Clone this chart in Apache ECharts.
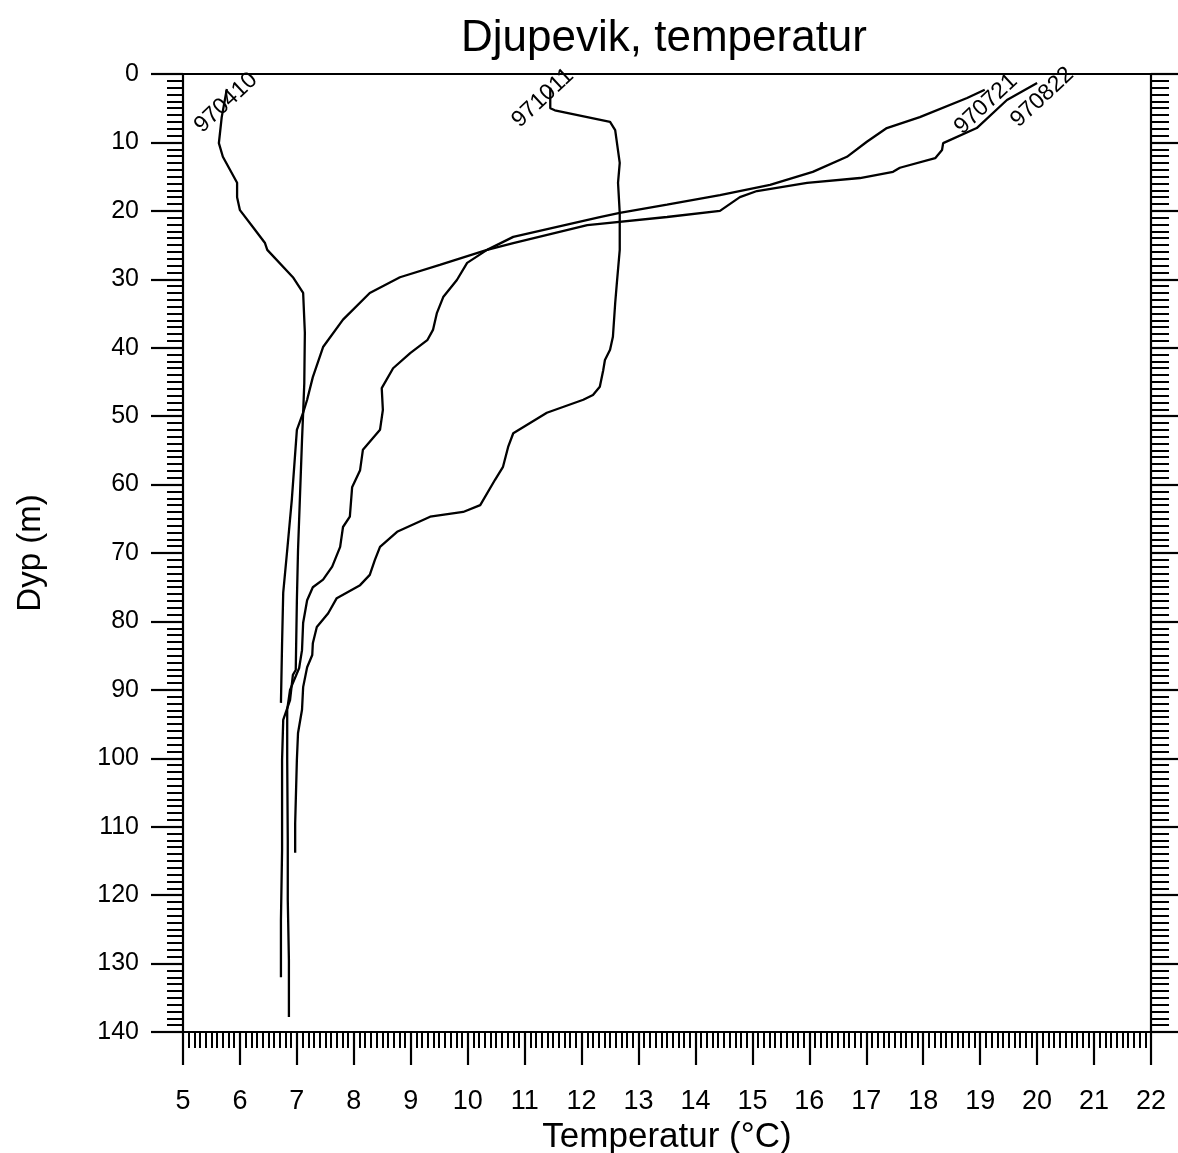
<!DOCTYPE html>
<html>
<head>
<meta charset="utf-8">
<script src="https://cdn.jsdelivr.net/npm/echarts@6/dist/echarts.min.js"></script>
<style>
html,body{margin:0;padding:0;background:#fff;}
#chart{width:1178px;height:1153px;}
</style>
</head>
<body>
<div id="chart"></div>
<script>
// Profile 970410
const depth_970410 = [2.2, 6.3, 10.1, 12.1, 15.9, 18.0, 19.9, 22.4, 24.7, 25.7, 29.7, 32.0, 37.8, 45.2, 49.5, 53.5, 69.6, 76.9, 87.1, 87.8, 91.5, 94.4, 100.2, 113.4, 123.6, 132];
const temp_970410  = [5.77, 5.68, 5.63, 5.70, 5.95, 5.95, 6.00, 6.23, 6.44, 6.48, 6.93, 7.11, 7.14, 7.13, 7.11, 7.09, 7.02, 7.00, 6.98, 6.93, 6.88, 6.76, 6.74, 6.74, 6.72, 6.72];

// Profile 970721
const depth_970721 = [2.3, 3.5, 6.3, 7.9, 9.9, 12.1, 14.3, 16.2, 17.7, 19.1, 20.3, 20.9, 23.8, 25.7, 27.9, 29.7, 32.0, 35.9, 39.9, 44.3, 47.6, 49.5, 52.0, 62.3, 69.6, 75.8, 83.2, 91.9];
const temp_970721  = [19.08, 18.77, 17.94, 17.36, 17.01, 16.66, 16.06, 15.31, 14.43, 13.50, 12.67, 12.32, 10.80, 10.34, 9.51, 8.81, 8.28, 7.81, 7.46, 7.28, 7.18, 7.11, 7.00, 6.91, 6.83, 6.76, 6.74, 6.72];

// Profile 970822
const depth_970822 = [1.3, 3.8, 7.9, 10.1, 11.1, 12.3, 13.7, 14.3, 15.2, 15.9, 17.1, 18.0, 20.0, 20.9, 21.9, 22.1, 24.7, 25.7, 27.6, 30.1, 32.6, 34.9, 37.4, 38.9, 40.8, 43.0, 45.9, 49.1, 52.0, 54.9, 57.9, 60.4, 64.7, 66.2, 69.1, 72.0, 73.9, 75.0, 76.9, 80.2, 84.2, 86.8, 90.0, 92.9, 100.2, 112, 120.7, 129.5, 137.8];
const temp_970822  = [20.0, 19.47, 18.94, 18.35, 18.33, 18.21, 17.59, 17.47, 16.89, 15.96, 15.08, 14.78, 14.43, 13.50, 12.32, 12.10, 10.80, 10.34, 9.99, 9.81, 9.57, 9.46, 9.39, 9.29, 8.99, 8.69, 8.49, 8.51, 8.46, 8.16, 8.11, 7.97, 7.93, 7.81, 7.76, 7.62, 7.46, 7.28, 7.18, 7.11, 7.09, 7.04, 6.88, 6.83, 6.83, 6.84, 6.84, 6.86, 6.86];

// Profile 971011
const depth_971011 = [2.0, 5.0, 5.3, 7.0, 8.2, 13.0, 15.9, 20.3, 25.7, 30.5, 33.5, 38.4, 40.3, 41.8, 43.3, 45.7, 46.9, 47.6, 49.5, 52.5, 54.5, 57.4, 59.3, 63.0, 64.0, 64.7, 66.9, 69.1, 71.0, 73.2, 74.7, 76.6, 78.8, 80.8, 83.2, 84.9, 86.7, 89.6, 92.9, 96.3, 100.2, 109.5, 113.8];
const temp_971011  = [11.45, 11.45, 11.53, 12.50, 12.59, 12.67, 12.64, 12.67, 12.67, 12.62, 12.59, 12.55, 12.50, 12.41, 12.38, 12.32, 12.20, 12.03, 11.39, 10.80, 10.71, 10.62, 10.48, 10.22, 9.92, 9.34, 8.76, 8.46, 8.37, 8.28, 8.11, 7.70, 7.55, 7.35, 7.28, 7.27, 7.18, 7.11, 7.09, 7.02, 7.00, 6.97, 6.97];

// Line labels: name, anchor temperature, anchor depth
const labelNames = ['970410', '971011', '970721', '970822'];
const labelTemps = [5.755, 11.32, 19.10, 20.09];
const labelDepths = [4.2, 3.5, 4.4, 3.4];

const xTickMin = 5, xTickMax = 22, yTickMin = 0, yTickMax = 140;

const FONT = '"Liberation Sans", Arial, Helvetica, sans-serif';
const BLACK = '#000';

function pairs(t, d) { return t.map((v, i) => [v, d[i]]); }

const profiles = [
  { name: '970410', data: pairs(temp_970410, depth_970410) },
  { name: '971011', data: pairs(temp_971011, depth_971011) },
  { name: '970721', data: pairs(temp_970721, depth_970721) },
  { name: '970822', data: pairs(temp_970822, depth_970822) }
];

const series = profiles.map((p) => {
  const li = labelNames.indexOf(p.name);
  return {
    type: 'line',
    name: p.name,
    data: p.data,
    showSymbol: false,
    symbol: 'none',
    lineStyle: { color: BLACK, width: 2.3 },
    itemStyle: { color: BLACK },
    emphasis: { disabled: true },
    markPoint: {
      symbol: 'circle',
      symbolSize: 1,
      itemStyle: { color: 'rgba(0,0,0,0)' },
      label: {
        show: true,
        position: 'inside',
        formatter: labelNames[li],
        rotate: 43,
        fontSize: 23,
        fontFamily: FONT,
        color: BLACK,
        align: 'center',
        verticalAlign: 'middle'
      },
      data: [{ coord: [labelTemps[li], labelDepths[li]] }]
    }
  };
});

const chart = echarts.init(document.getElementById('chart'), null, { renderer: 'canvas' });
chart.setOption({
  animation: false,
  backgroundColor: '#fff',
  title: {
    text: 'Djupevik, temperatur',
    left: 659,
    top: 12,
    textAlign: 'center',
    textStyle: { fontFamily: FONT, fontSize: 44, fontWeight: 'normal', color: BLACK }
  },
  grid: { left: 183, right: 27, top: 74, bottom: 121, containLabel: false, outerBoundsMode: 'none' },
  xAxis: [
    {
      type: 'value', min: xTickMin, max: xTickMax, interval: 1, position: 'bottom',
      axisLine: { show: true, onZero: false, lineStyle: { color: BLACK, width: 2.2 } },
      axisTick: { show: true, inside: false, length: 33, lineStyle: { color: BLACK, width: 2.2 } },
      minorTick: { show: true, splitNumber: 10, length: 16, lineStyle: { color: BLACK, width: 2 } },
      splitLine: { show: false }, minorSplitLine: { show: false },
      axisLabel: { fontSize: 27, color: BLACK, margin: 56, fontFamily: FONT, hideOverlap: false },
      name: 'Temperatur (°C)', nameLocation: 'middle', nameGap: 86,
      nameTextStyle: { fontSize: 35, color: BLACK, fontFamily: FONT }
    },
    {
      type: 'value', min: xTickMin, max: xTickMax, position: 'top',
      axisLine: { show: true, onZero: false, lineStyle: { color: BLACK, width: 2.2 } },
      axisTick: { show: false }, axisLabel: { show: false }, splitLine: { show: false }
    }
  ],
  yAxis: [
    {
      type: 'value', min: yTickMin, max: yTickMax, interval: 10, inverse: true, position: 'left',
      axisLine: { show: true, onZero: false, lineStyle: { color: BLACK, width: 2.2 } },
      axisTick: { show: true, inside: false, length: 32, lineStyle: { color: BLACK, width: 2.2 } },
      minorTick: { show: true, splitNumber: 10, length: 16, lineStyle: { color: BLACK, width: 2 } },
      splitLine: { show: false }, minorSplitLine: { show: false },
      axisLabel: { fontSize: 25, color: BLACK, margin: 44, fontFamily: FONT, hideOverlap: false },
      name: 'Dyp (m)', nameLocation: 'middle', nameGap: 136,
      nameTextStyle: { fontSize: 33, color: BLACK, fontFamily: FONT }
    },
    {
      type: 'value', min: yTickMin, max: yTickMax, interval: 10, inverse: true, position: 'right',
      axisLine: { show: true, onZero: false, lineStyle: { color: BLACK, width: 2.2 } },
      axisTick: { show: true, inside: false, length: 32, lineStyle: { color: BLACK, width: 2.2 } },
      minorTick: { show: true, splitNumber: 10, length: 18, lineStyle: { color: BLACK, width: 2 } },
      splitLine: { show: false }, minorSplitLine: { show: false },
      axisLabel: { show: false }
    }
  ],
  series: series
});
</script>
</body>
</html>
